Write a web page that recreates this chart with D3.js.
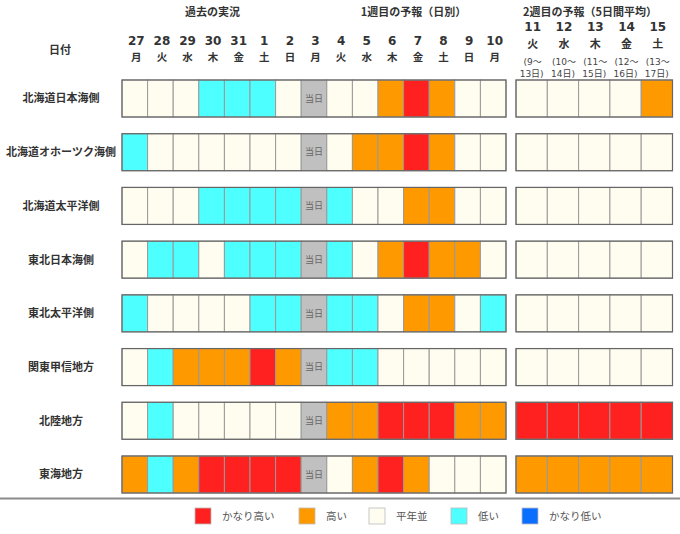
<!DOCTYPE html>
<html><head><meta charset="utf-8">
<script src="https://cdn.jsdelivr.net/npm/d3@7/dist/d3.min.js"></script>
<style>
html,body{margin:0;padding:0;background:#fff;}
svg{display:block;}
</style></head>
<body>
<svg id="chart" width="680" height="534"></svg>
<script>
// ---- data ----
const sectionTitles = ["過去の実況", "1週目の予報（日別）", "2週目の予報（5日間平均）"];
const dates1 = ["27","28","29","30","31","1","2","3","4","5","6","7","8","9","10"];
const days1  = ["月","火","水","木","金","土","日","月","火","水","木","金","土","日","月"];
const dates2 = ["11","12","13","14","15"];
const days2  = ["火","水","木","金","土"];
const range2a = ["(9～","(10～","(11～","(12～","(13～"];
const range2b = ["13日)","14日)","15日)","16日)","17日)"];
const regions = ["北海道日本海側","北海道オホーツク海側","北海道太平洋側","東北日本海側","東北太平洋側","関東甲信地方","北陸地方","東海地方"];
// codes: VH=かなり高い, H=高い, N=平年並, L=低い, VL=かなり低い, T=当日
const daily = [
  ["N","N","N","L","L","L","N","T","N","N","H","VH","H","N","N"],
  ["L","N","N","N","N","N","N","T","N","H","H","VH","H","N","N"],
  ["N","N","N","L","L","L","L","T","L","N","N","H","H","N","N"],
  ["N","L","L","N","L","L","L","T","L","N","H","VH","H","H","N"],
  ["L","N","N","N","N","L","L","T","L","L","N","H","H","N","L"],
  ["N","L","H","H","H","VH","H","T","L","L","N","N","N","N","N"],
  ["N","L","N","N","N","N","N","T","H","H","VH","VH","VH","H","H"],
  ["H","L","H","VH","VH","VH","VH","T","N","H","VH","H","N","N","N"]
];
const week2 = [
  ["N","N","N","N","H"],
  ["N","N","N","N","N"],
  ["N","N","N","N","N"],
  ["N","N","N","N","N"],
  ["N","N","N","N","N"],
  ["N","N","N","N","N"],
  ["VH","VH","VH","VH","VH"],
  ["H","H","H","H","H"]
];
const legendCodes  = ["VH","H","N","L","VL"];
const legendLabels = ["かなり高い","高い","平年並","低い","かなり低い"];
const todayLabel = "当日";
const dateHeader = "日付";

// ---- styles ----
const colorMap = {VH:"#ff2020", H:"#ff9900", N:"#fffdf0", L:"#4dffff", VL:"#0a6eff", T:"#c0c0c0"};
const jp = "'Noto Sans CJK JP', sans-serif";
const num = "'DejaVu Sans', 'Noto Sans CJK JP', sans-serif";
const txt = "#333";

const svg = d3.select("#chart");

// ---- scales ----
const keys1 = dates1.map((d,i)=>i);
const keys2 = dates2.map((d,i)=>i);
const x1 = d3.scaleBand().domain(keys1).range([122, 506]).padding(0);
const x2 = d3.scaleBand().domain(keys2).range([516, 672.5]).padding(0);
const y = d3.scaleBand().domain(regions).range([80, 493]).paddingInner(0.311).paddingOuter(0);

// ---- section titles ----
svg.selectAll("text.sec").data(sectionTitles).join("text")
  .attr("class","sec")
  .attr("x",(d,i)=>[212.5, 413.5, 590][i])
  .attr("y",15.5)
  .attr("text-anchor","middle")
  .attr("font-family",jp).attr("font-weight","bold").attr("font-size",11)
  .attr("fill",txt).text(d=>d);

// 日付
svg.append("text").attr("x",60).attr("y",54)
  .attr("text-anchor","middle").attr("font-family",jp).attr("font-weight","bold")
  .attr("font-size",11).attr("fill",txt).text(dateHeader);

// first block header
const g1h = svg.append("g");
g1h.selectAll("text.d").data(dates1).join("text")
  .attr("x",(d,i)=>x1(i)+x1.bandwidth()/2+1.5).attr("y",44.5)
  .attr("text-anchor","middle").attr("font-family",num).attr("font-weight","bold")
  .attr("font-size",12).attr("fill",txt).text(d=>d);
g1h.selectAll("text.w").data(days1).join("text")
  .attr("x",(d,i)=>x1(i)+x1.bandwidth()/2+1.5).attr("y",60.5)
  .attr("text-anchor","middle").attr("font-family",jp).attr("font-weight","bold")
  .attr("font-size",10.5).attr("fill",txt).text(d=>d);

// second block header
const g2h = svg.append("g");
g2h.selectAll("text.d").data(dates2).join("text")
  .attr("x",(d,i)=>x2(i)+x2.bandwidth()/2+1).attr("y",31)
  .attr("text-anchor","middle").attr("font-family",num).attr("font-weight","bold")
  .attr("font-size",12).attr("fill",txt).text(d=>d);
g2h.selectAll("text.w").data(days2).join("text")
  .attr("x",(d,i)=>x2(i)+x2.bandwidth()/2+1).attr("y",48)
  .attr("text-anchor","middle").attr("font-family",jp).attr("font-weight","bold")
  .attr("font-size",11).attr("fill",txt).text(d=>d);
g2h.selectAll("text.ra").data(range2a).join("text")
  .attr("x",(d,i)=>x2(i)+x2.bandwidth()/2+1).attr("y",64.5)
  .attr("text-anchor","middle").attr("font-family",num)
  .attr("font-size",9).attr("fill","#444").text(d=>d);
g2h.selectAll("text.rb").data(range2b).join("text")
  .attr("x",(d,i)=>x2(i)+x2.bandwidth()/2).attr("y",76.5)
  .attr("text-anchor","middle").attr("font-family",num)
  .attr("font-size",9).attr("fill","#444").text(d=>d);

// ---- rows ----
const rows = svg.selectAll("g.row").data(regions).join("g").attr("class","row")
  .attr("transform",d=>`translate(0,${y(d)})`);
const bh = y.bandwidth();

rows.append("text").attr("x",61).attr("y",bh/2).attr("dy","0.36em")
  .attr("text-anchor","middle").attr("font-family",jp).attr("font-weight","bold")
  .attr("font-size",11).attr("fill",txt).text(d=>d);

rows.each(function(region, ri){
  const g = d3.select(this);
  g.selectAll("rect.c1").data(daily[ri]).join("rect")
    .attr("x",(d,i)=>x1(i)).attr("y",0)
    .attr("width",x1.bandwidth()).attr("height",bh)
    .attr("fill",d=>colorMap[d]).attr("stroke","#999").attr("stroke-width",1);
  g.selectAll("text.t").data(daily[ri].map((d,i)=>({d,i})).filter(o=>o.d==="T")).join("text")
    .attr("x",o=>x1(o.i)+x1.bandwidth()/2).attr("y",bh/2).attr("dy","0.36em")
    .attr("text-anchor","middle").attr("font-family",jp).attr("font-size",9)
    .attr("fill","#666").text(todayLabel);
  g.append("rect").attr("x",x1.range()[0]).attr("y",0)
    .attr("width",x1.range()[1]-x1.range()[0]).attr("height",bh)
    .attr("fill","none").attr("stroke","#666").attr("stroke-width",1.2);
  g.selectAll("rect.c2").data(week2[ri]).join("rect")
    .attr("x",(d,i)=>x2(i)).attr("y",0)
    .attr("width",x2.bandwidth()).attr("height",bh)
    .attr("fill",d=>colorMap[d]).attr("stroke","#999").attr("stroke-width",1);
  g.append("rect").attr("x",x2.range()[0]).attr("y",0)
    .attr("width",x2.range()[1]-x2.range()[0]).attr("height",bh)
    .attr("fill","none").attr("stroke","#666").attr("stroke-width",1.2);
});

// ---- separator line ----
svg.append("line").attr("x1",0).attr("x2",680).attr("y1",498.5).attr("y2",498.5)
  .attr("stroke","#8a8a8a").attr("stroke-width",2);

// ---- legend ----
const legX = [195, 299, 369, 451, 522];
const leg = svg.selectAll("g.leg").data(legendCodes).join("g").attr("class","leg")
  .attr("transform",(d,i)=>`translate(${legX[i]},508)`);
leg.append("rect").attr("width",16).attr("height",16)
  .attr("fill",d=>colorMap[d]).attr("stroke","#bbb").attr("stroke-width",0.8);
leg.append("text").attr("x",27).attr("y",8).attr("dy","0.36em")
  .attr("font-family",jp).attr("font-size",10.5).attr("fill","#555")
  .text((d,i)=>legendLabels[i]);
</script>
</body></html>
